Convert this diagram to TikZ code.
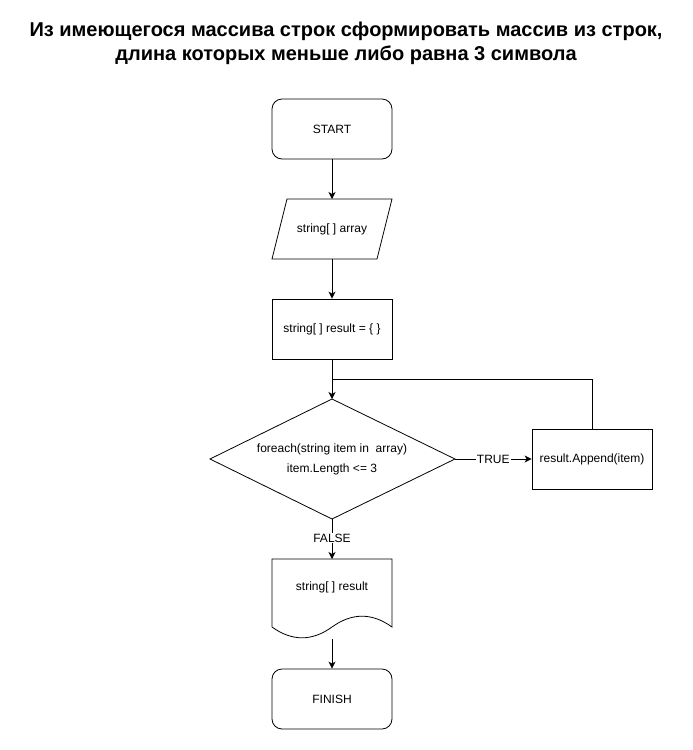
\documentclass[tikz,border=0pt]{standalone}
\usepackage{fontspec}
\setmainfont{Liberation Sans}
\usetikzlibrary{arrows.meta,shapes.geometric}
\begin{document}
\begin{tikzpicture}[x=1pt,y=-1pt,
  every node/.style={font=\fontsize{12}{14}\selectfont},
  box/.style={draw,line width=0.8pt,minimum width=120pt,minimum height=60pt,inner sep=0pt},
  rbox/.style={box,rounded corners=10pt},
  conn/.style={line width=0.8pt,-{Stealth[length=7pt,width=7pt,inset=2pt]}},
  plain/.style={line width=0.8pt},
  lbl/.style={fill=white,inner sep=1pt}
]
\useasboundingbox (0,0) rectangle (693,750);
% title
\node[font=\fontsize{20}{24}\selectfont\bfseries,align=center] (title) at (346,43)
  {Из имеющегося массива строк сформировать массив из строк,\\длина которых меньше либо равна 3 символа};
% nodes
\node[rbox] (start) at (332,129) {START};
\coordinate (pA) at (287,199);
\coordinate (pB) at (392,199);
\coordinate (pC) at (377,259);
\coordinate (pD) at (272,259);
\draw[plain] (pA) -- (pB) -- (pC) -- (pD) -- cycle;
\node[minimum width=105pt,minimum height=60pt] (input) at (332,229) {string[ ] array};
\node[box] (init) at (332,329) {string[ ] result = \{ \}};
\coordinate (dT) at (332,399);
\coordinate (dR) at (455,459);
\coordinate (dB) at (332,519);
\coordinate (dL) at (210,459);
\draw[plain] (dT) -- (dR) -- (dB) -- (dL) -- cycle;
\node[align=center] (cond) at (332,459) {foreach(string item in\ \ array)\\[6pt]item.Length <= 3};
\node[box] (append) at (592,459) {result.Append(item)};
% document shape
\coordinate (doc0) at (272,559);
\coordinate (doc1) at (392,559);
\coordinate (doc2) at (392,627);
\coordinate (doc3) at (332,627);
\coordinate (doc4) at (272,627);
\draw[plain] (doc4) -- (doc0) -- (doc1) -- (doc2)
  .. controls (372,612.6) and (352,612.6) .. (doc3)
  .. controls (312,641.4) and (292,641.4) .. (doc4);
\node (out) at (332,587) {string[ ] result};
\node[rbox] (finish) at (332,699) {FINISH};
% connectors
\draw[conn] (start.south) -- (332,199);
\draw[conn] (332,259) -- (init.north);
\draw[conn] (init.south) -- (dT);
\coordinate (loopR) at (592,379);
\coordinate (loopL) at (332,379);
\draw[plain] (append.north) -- (loopR) -- (loopL);
\draw[conn] (dR) -- node[lbl] (tl) {TRUE} (append.west);
\draw[conn] (dB) -- node[lbl,pos=0.48] (fl) {FALSE} (doc0 -| dB);
\draw[conn] (332,639) -- (finish.north);
\end{tikzpicture}
\end{document}
